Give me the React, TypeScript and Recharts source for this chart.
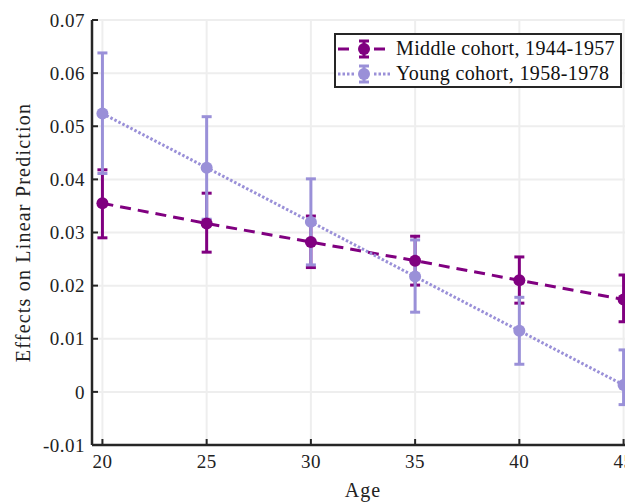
import { ComposedChart, Line, ErrorBar, XAxis, YAxis, CartesianGrid } from 'recharts'

const ages = [20, 25, 30, 35, 40, 45]

const middleEffect = [0.0355, 0.0317, 0.0282, 0.0247, 0.021, 0.0174]
const middleLower = [0.029, 0.0263, 0.0234, 0.0201, 0.0167, 0.0132]
const middleUpper = [0.0418, 0.0374, 0.0331, 0.0293, 0.0254, 0.022]

const youngEffect = [0.0524, 0.0422, 0.032, 0.0217, 0.0115, 0.0013]
const youngLower = [0.0411, 0.0325, 0.0239, 0.015, 0.0052, -0.0024]
const youngUpper = [0.0638, 0.0518, 0.0401, 0.0286, 0.0178, 0.0079]

const yTicks = [-0.01, 0, 0.01, 0.02, 0.03, 0.04, 0.05, 0.06, 0.07]

const MIDDLE = '#800080'
const YOUNG = '#9a90d8'
const AXIS = '#262626'
const FONT = '"Liberation Serif", serif'

// error bars take [below, above] distances from the point
const data = ages.map((age, i) => ({
  age,
  middle: middleEffect[i],
  middleErr: [middleEffect[i] - middleLower[i], middleUpper[i] - middleEffect[i]],
  young: youngEffect[i],
  youngErr: [youngEffect[i] - youngLower[i], youngUpper[i] - youngEffect[i]],
}))

const series = [
  { name: 'Middle cohort, 1944-1957', color: MIDDLE, dash: '11 7' },
  { name: 'Young cohort, 1958-1978', color: YOUNG, dash: '2.5 2' },
]

function LegendIcon({ color, dash }: { color: string; dash: string }) {
  return (
    <svg width={58} height={24} style={{ display: 'block', flex: 'none' }}>
      <line x1={2} y1={12} x2={56} y2={12} stroke={color} strokeWidth={3} strokeDasharray={dash} />
      <rect x={20} y={3} width={16} height={18} fill="#fff" />
      <line x1={28} y1={4} x2={28} y2={20} stroke={color} strokeWidth={3} />
      <line x1={23} y1={4} x2={33} y2={4} stroke={color} strokeWidth={3} />
      <line x1={23} y1={20} x2={33} y2={20} stroke={color} strokeWidth={3} />
      <circle cx={28} cy={12} r={6} fill={color} />
    </svg>
  )
}

function CohortLegend() {
  return (
    <div
      style={{
        position: 'absolute',
        left: 334,
        top: 33,
        width: 288,
        height: 55,
        boxSizing: 'border-box',
        border: `2px solid ${AXIS}`,
        background: '#fff',
        padding: '1px 0 0 0',
        fontFamily: FONT,
        fontSize: 20,
        letterSpacing: 0.35,
        color: '#111',
      }}
    >
      {series.map((s) => (
        <div key={s.name} style={{ display: 'flex', alignItems: 'center', height: 25 }}>
          <LegendIcon color={s.color} dash={s.dash} />
          <span style={{ marginLeft: 2, whiteSpace: 'nowrap' }}>{s.name}</span>
        </div>
      ))}
    </div>
  )
}

function YTitle({ viewBox }: any) {
  const cx = 23
  const cy = viewBox.y + viewBox.height / 2
  return (
    <text
      x={cx}
      y={cy}
      transform={`rotate(-90 ${cx} ${cy})`}
      textAnchor="middle"
      dominantBaseline="central"
      fontFamily={FONT}
      fontSize={20}
      letterSpacing={1.2}
      fill="#222"
    >
      Effects on Linear Prediction
    </text>
  )
}

function XTitle({ viewBox }: any) {
  const cx = viewBox.x + viewBox.width / 2
  return (
    <text x={cx} y={497} textAnchor="middle" fontFamily={FONT} fontSize={20} letterSpacing={1} fill="#222">
      Age
    </text>
  )
}

export default function App() {
  const tickStyle = { fontFamily: FONT, fontSize: 19, fill: '#222', letterSpacing: 0.5 }
  return (
    <div
      style={{
        position: 'fixed',
        left: 0,
        top: 0,
        width: 625,
        height: 503,
        overflow: 'hidden',
        background: '#fff',
        fontFamily: FONT,
      }}
    >
      <ComposedChart
        width={660}
        height={503}
        data={data}
        margin={{ top: 20, right: 26, left: 0, bottom: 0 }}
        style={{ fontFamily: FONT }}
      >
        <CartesianGrid stroke="#eeeeee" strokeWidth={2} />
        <XAxis
          dataKey="age"
          type="number"
          domain={[19.5, 45.5]}
          ticks={ages}
          allowDataOverflow
          height={58}
          tick={tickStyle}
          tickSize={-6}
          tickMargin={16}
          axisLine={{ stroke: AXIS, strokeWidth: 2.5 }}
          tickLine={{ stroke: AXIS, strokeWidth: 2 }}
          label={<XTitle />}
        />
        <YAxis
          type="number"
          domain={[-0.01, 0.07]}
          ticks={yTicks}
          allowDataOverflow
          width={92}
          tick={tickStyle}
          tickSize={-6}
          tickMargin={13}
          tickFormatter={(v: number) => (v === 0 ? '0' : v.toFixed(2))}
          axisLine={{ stroke: AXIS, strokeWidth: 2.5 }}
          tickLine={{ stroke: AXIS, strokeWidth: 2 }}
          label={<YTitle />}
        />
        <Line
          dataKey="middle"
          name={series[0].name}
          stroke={MIDDLE}
          strokeWidth={3}
          strokeDasharray={series[0].dash}
          dot={{ r: 6, fill: MIDDLE, stroke: MIDDLE, strokeWidth: 0, strokeDasharray: '' }}
          activeDot={false}
          isAnimationActive={false}
        >
          <ErrorBar dataKey="middleErr" direction="y" width={5} stroke={MIDDLE} strokeWidth={3} />
        </Line>
        <Line
          dataKey="young"
          name={series[1].name}
          stroke={YOUNG}
          strokeWidth={3}
          strokeDasharray={series[1].dash}
          dot={{ r: 6, fill: YOUNG, stroke: YOUNG, strokeWidth: 0, strokeDasharray: '' }}
          activeDot={false}
          isAnimationActive={false}
        >
          <ErrorBar dataKey="youngErr" direction="y" width={5} stroke={YOUNG} strokeWidth={3} />
        </Line>
      </ComposedChart>
      <CohortLegend />
    </div>
  )
}
